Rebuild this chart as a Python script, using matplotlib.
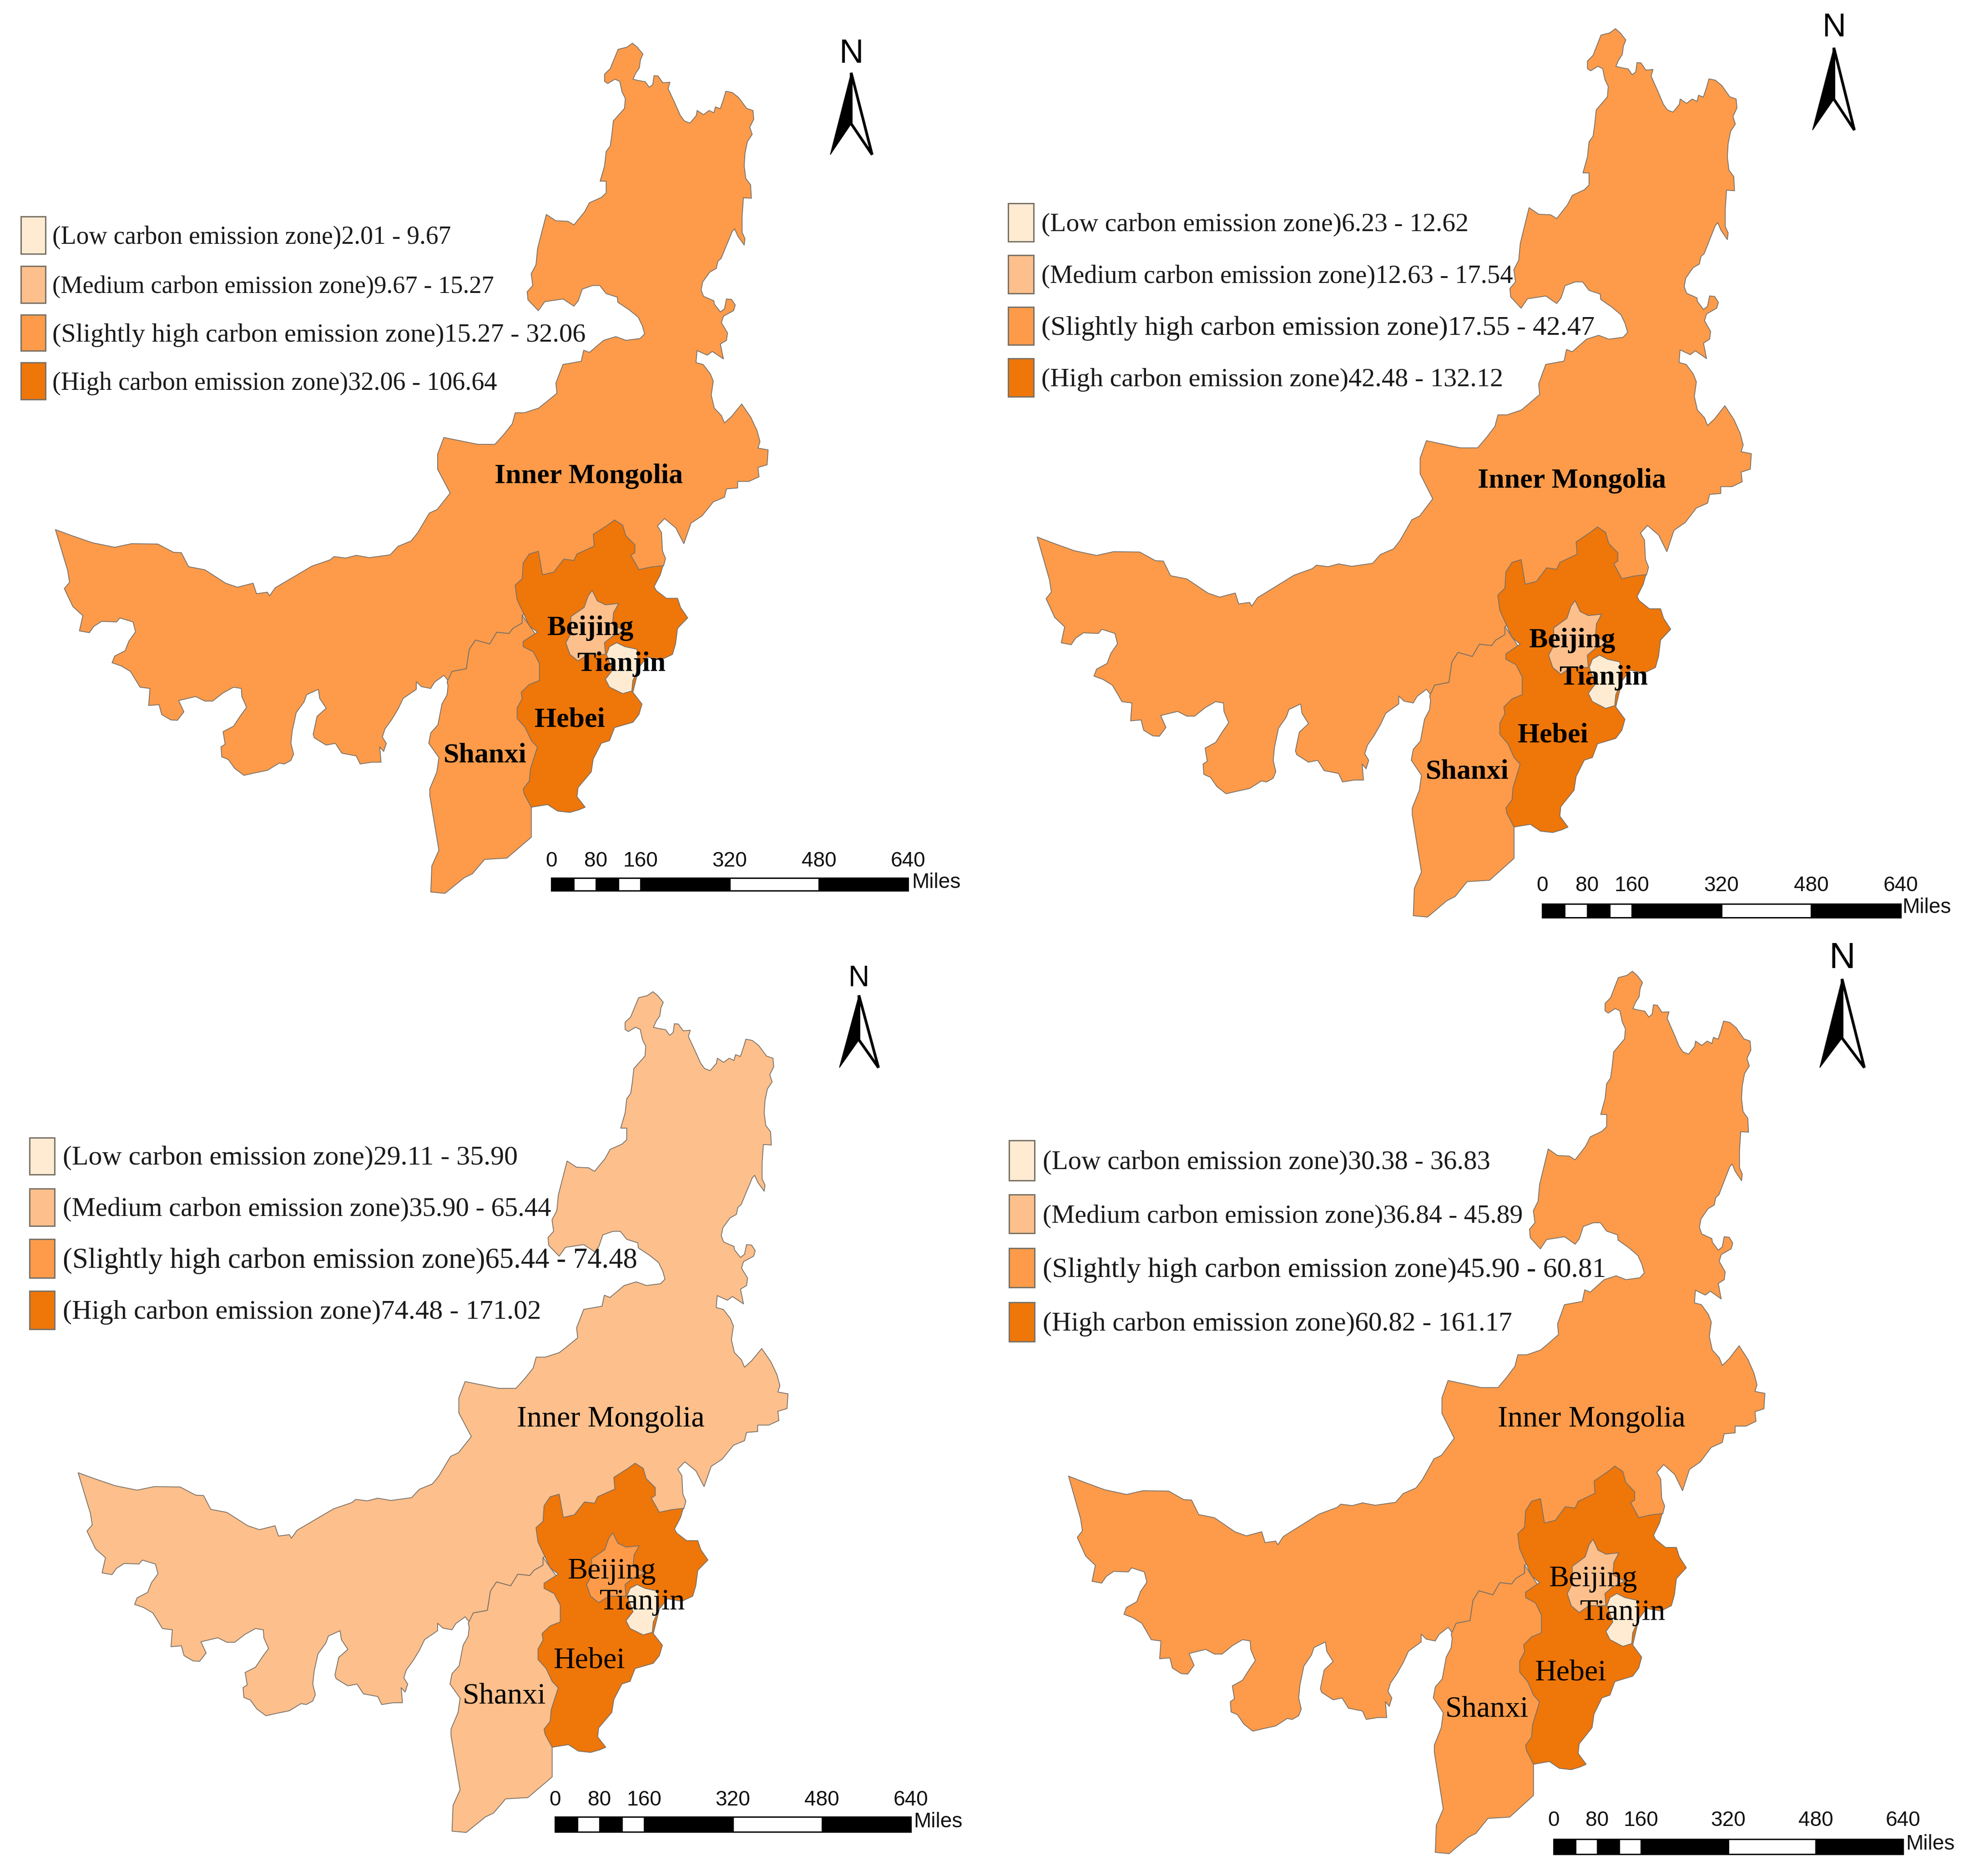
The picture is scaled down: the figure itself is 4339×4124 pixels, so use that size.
import matplotlib
matplotlib.use('Agg')
import matplotlib.pyplot as plt
from matplotlib.patches import Polygon, Rectangle
import numpy as np

W, H = 4339, 4124
DPI = 300
PX = 72 / DPI  # one image pixel in points

# colours of the four classes
LOW = '#FEEBD2'
MEDIUM = '#FDBF8B'
SLIGHT = '#FD9B4A'
HIGH = '#EF7608'
CLASS_COLORS = [LOW, MEDIUM, SLIGHT, HIGH]
EDGE = '#787068'

CLASS_NAMES = ['(Low carbon emission zone)', '(Medium carbon emission zone)',
               '(Slightly high carbon emission zone)', '(High carbon emission zone)']
# the original font is wider on some rows than the serif used here
ROW_SIZE = [1.05, 1.03, 1.10, 1.06]

RANGES_A = ['2.01 - 9.67', '9.67 - 15.27', '15.27 - 32.06', '32.06 - 106.64']
RANGES_B = ['6.23 - 12.62', '12.63 - 17.54', '17.55 - 42.47', '42.48 - 132.12']
RANGES_C = ['29.11 - 35.90', '35.90 - 65.44', '65.44 - 74.48', '74.48 - 171.02']
RANGES_D = ['30.38 - 36.83', '36.84 - 45.89', '45.90 - 60.81', '60.82 - 161.17']

REGIONS = ['Inner Mongolia', 'Shanxi', 'Hebei', 'Beijing', 'Tianjin']
FILLS_A = [SLIGHT, SLIGHT, HIGH, MEDIUM, LOW]
FILLS_B = [SLIGHT, SLIGHT, HIGH, MEDIUM, LOW]
FILLS_C = [MEDIUM, MEDIUM, HIGH, SLIGHT, LOW]
FILLS_D = [SLIGHT, SLIGHT, HIGH, MEDIUM, LOW]

BAR_MILES = [0, 40, 80, 120, 160, 320, 480, 640]
BAR_TICKS = [0, 80, 160, 320, 480, 640]

CROP_N = (1150, 80, 550, 620)
CROP_E = (1050, 640, 700, 640)
CROP_S = (900, 1100, 700, 900)
CROP_W = (100, 1120, 900, 620)
CROP_ALL = (0, 0, 2170, 2060)

MONGOLIA_NORTH = [(685, 38), (715, 60), (750, 98), (735, 130), (728, 175), (705, 205), (688, 238), (720, 245),
                  (765, 252), (790, 283), (812, 268), (820, 218), (845, 220), (875, 258), (920, 255), (908, 290),
                  (950, 370), (985, 440), (1010, 470), (1045, 482), (1085, 440), (1090, 412), (1130, 435),
                  (1165, 412), (1195, 425), (1205, 392), (1235, 402), (1255, 350), (1270, 305), (1310, 312),
                  (1350, 340), (1400, 400), (1440, 412), (1445, 460), (1420, 505), (1435, 545), (1405, 585),
                  (1390, 650), (1385, 720), (1395, 790), (1425, 825), (1430, 900), (1380, 897), (1372, 1000),
                  (1372, 1090), (1390, 1125), (1385, 1160), (1345, 1110), (1325, 1070), (1310, 1085), (1270, 1170),
                  (1240, 1235), (1220, 1250), (1210, 1290), (1170, 1310), (1125, 1365), (1115, 1410), (1130, 1445),
                  (1195, 1470)]
MONGOLIA_EAST = [(1165, 70), (1195, 112), (1215, 95), (1225, 42), (1250, 45), (1268, 75), (1260, 105), (1210, 135),
                 (1200, 170), (1230, 225), (1225, 265), (1195, 285), (1210, 365), (1155, 325), (1130, 345),
                 (1080, 320), (1075, 385), (1110, 395), (1145, 445), (1160, 485), (1150, 560), (1165, 630),
                 (1200, 670), (1215, 710), (1250, 675), (1300, 608), (1345, 680), (1375, 750), (1390, 810),
                 (1380, 845), (1430, 855), (1425, 935), (1380, 950), (1385, 1000), (1335, 1025), (1280, 1025),
                 (1280, 1060), (1225, 1065), (1215, 1110), (1160, 1135), (1105, 1210), (1050, 1250), (1015, 1360),
                 (975, 1275), (920, 1225), (885, 1265), (905, 1300), (910, 1400), (925, 1440), (915, 1480)]
MONGOLIA_HIDDEN = [(1000, 300), (700, 400), (555, 440)]  # runs under Hebei
MONGOLIA_BORDER = [(555, 470), (510, 490), (490, 510), (430, 505), (395, 550), (325, 535), (295, 570), (280, 645),
                   (210, 655), (190, 690), (170, 670)]
MONGOLIA_WEST = [(1490, 960), (1475, 995), (1440, 985), (1420, 958), (1420, 1000), (1370, 1050), (1350, 1110),
                 (1325, 1170), (1300, 1220), (1290, 1265), (1305, 1300), (1295, 1345), (1280, 1320), (1285, 1405),
                 (1250, 1405), (1205, 1415), (1190, 1370), (1135, 1355), (1110, 1300), (1075, 1310), (1030, 1270),
                 (1025, 1250), (1040, 1150), (1075, 1105), (1050, 1050), (1045, 1000), (1000, 1030), (990, 1070),
                 (960, 1130), (945, 1230), (940, 1300), (950, 1360), (940, 1395), (915, 1415), (895, 1410),
                 (850, 1450), (800, 1465), (760, 1478), (725, 1440), (700, 1390), (675, 1375), (672, 1320),
                 (688, 1305), (680, 1235), (720, 1205), (745, 1150), (770, 1100), (752, 1040), (750, 995),
                 (720, 988), (680, 1020), (640, 1065), (610, 1065), (575, 1040), (510, 1062), (530, 1125),
                 (505, 1172), (480, 1170), (445, 1140), (435, 1085), (395, 1090), (400, 995), (362, 988),
                 (340, 935), (325, 900), (290, 870), (255, 852), (265, 815), (305, 785), (320, 730), (345, 680),
                 (335, 625), (285, 603), (272, 625), (215, 622), (185, 650), (168, 685), (130, 675), (143, 590),
                 (105, 540), (72, 440), (92, 405), (85, 340), (38, 112), (100, 145), (180, 185), (265, 210),
                 (330, 190), (430, 192), (490, 238), (520, 240), (548, 318), (610, 335), (690, 410), (735, 432),
                 (795, 410), (808, 468), (850, 460), (858, 480), (880, 435), (1020, 315), (1090, 280), (1105, 262),
                 (1150, 270), (1190, 255), (1240, 268), (1320, 252), (1350, 205), (1400, 175), (1425, 130),
                 (1470, 20), (1500, 0)]
MONGOLIA_ELBOW = [(715, 825), (695, 785), (695, 760), (705, 732)]
MONGOLIA_BAY = [(0, 825), (85, 825), (130, 770), (170, 715), (185, 655), (230, 655), (300, 630), (340, 595),
                (390, 550), (385, 495), (420, 395), (510, 378), (522, 318), (550, 330), (620, 265), (680, 245),
                (730, 265), (800, 255), (822, 230), (810, 185), (790, 140), (745, 100), (690, 60)]
MONGOLIA_NW = [(590, 1450), (520, 1430), (480, 1385), (435, 1385), (370, 1405), (345, 1470), (318, 1500),
               (250, 1460), (135, 1475), (95, 1525), (30, 1465), (25, 1420), (60, 1385), (50, 1320), (80, 1270),
               (90, 1180), (145, 990), (205, 1025), (280, 1028), (318, 1048), (385, 975), (415, 925), (490, 895),
               (520, 870), (520, 805), (482, 805), (510, 720), (520, 640), (545, 610), (555, 550), (565, 470),
               (635, 400), (640, 345), (620, 310), (605, 250), (575, 238), (530, 262), (510, 250), (510, 210),
               (545, 180), (595, 72), (650, 60)]

SHANXI = [(555, 440), (555, 470), (510, 490), (490, 510), (430, 505), (395, 550), (325, 535), (295, 570), (280, 645),
          (210, 655), (185, 695), (190, 710), (185, 745), (160, 780), (140, 860), (105, 890), (95, 930), (145, 985),
          (135, 1040), (100, 1105), (100, 1130), (130, 1270), (145, 1340), (110, 1400), (105, 1500), (175, 1505),
          (270, 1445), (310, 1430), (370, 1375), (480, 1370), (600, 1290), (600, 1175), (700, 1100), (700, 600)]
HEBEI = [(905, 130), (975, 95), (1010, 75), (1050, 95), (1065, 135), (1110, 170), (1110, 200), (1090, 210),
         (1130, 265), (1190, 255), (1248, 250), (1235, 285), (1205, 330), (1215, 345), (1265, 375), (1320, 375),
         (1335, 410), (1370, 450), (1320, 490), (1310, 550), (1295, 590), (1240, 610), (1170, 600), (1130, 640),
         (1100, 735), (1145, 780), (1130, 820), (1100, 850), (1010, 870), (985, 920), (945, 930), (905, 990),
         (895, 1040), (830, 1100), (825, 1135), (865, 1175), (835, 1185), (790, 1195), (730, 1190), (680, 1165),
         (600, 1175), (565, 1125), (560, 1105), (590, 1075), (595, 1030), (630, 945), (600, 920), (570, 870),
         (530, 835), (530, 795), (555, 760), (550, 735), (590, 705), (640, 690), (640, 625), (610, 580), (560, 560),
         (560, 540), (630, 505), (590, 480), (560, 430), (530, 380), (520, 325), (555, 300), (560, 240), (590, 205),
         (635, 195), (655, 285), (710, 275), (760, 225), (810, 230), (825, 205), (910, 175)]
BEIJING = [(900, 345), (925, 385), (965, 400), (1030, 395), (1005, 430), (1000, 475), (1060, 500), (1000, 520),
           (960, 545), (965, 590), (880, 590), (830, 615), (790, 590), (770, 545), (795, 510), (795, 445), (860, 410),
           (880, 365)]
TIANJIN = [(1020, 545), (1060, 560), (1120, 570), (1130, 640), (1100, 690), (1095, 730), (1050, 740), (985, 715),
           (965, 685), (1000, 650), (970, 590), (985, 560)]

# where each map sits: left, top of the outline, x scale, y scale against the traced map
MAP_A = (122, 93, 1.0, 1.0)
MAP_B = (2280, 61, 1.002, 1.045)
MAP_C = (172, 2178, 0.996, 0.989)
MAP_D = (2349, 2133, 0.977, 1.038)
TRACE_LEFT, TRACE_TOP = 122, 93


def from_crop(crop, pts):
    x0, y0, w, h = crop
    pts = np.array(pts, dtype=float)
    return np.column_stack([x0 + pts[:, 0] * w / 1568, y0 + pts[:, 1] * h / 1568])


mongolia = np.vstack([
    from_crop(CROP_N, MONGOLIA_NORTH),
    from_crop(CROP_E, MONGOLIA_EAST),
    from_crop(CROP_S, MONGOLIA_HIDDEN),
    from_crop(CROP_S, MONGOLIA_BORDER),
    from_crop(CROP_W, MONGOLIA_WEST),
    from_crop(CROP_ALL, MONGOLIA_ELBOW),
    from_crop(CROP_E, MONGOLIA_BAY),
    from_crop(CROP_N, MONGOLIA_NW),
])
OUTLINES = [mongolia, from_crop(CROP_S, SHANXI), from_crop(CROP_S, HEBEI),
            from_crop(CROP_S, BEIJING), from_crop(CROP_S, TIANJIN)]

PANELS = [
    dict(place=MAP_A, fills=FILLS_A, ranges=RANGES_A, bold=True, label_size=62,
         labels=[(1294, 1047), (1066, 1660), (1252, 1582), (1298, 1381), (1366, 1460)],
         swatch_x=(46, 100), swatch_y=[(476, 558), (585, 666), (692, 771), (797, 878)], text_x=115, text_size=53,
         bar=(1212, 1996, 1930, 1958), tick_y=1893, miles=(2004, 1940),
         arrow=(1871, 160, 1825, 1917, 272, 340), north=(1872, 119), north_size=74),
    dict(place=MAP_B, fills=FILLS_B, ranges=RANGES_B, bold=True, label_size=62,
         labels=[(3455, 1057), (3225, 1697), (3413, 1616), (3456, 1408), (3525, 1490)],
         swatch_x=(2216, 2272), swatch_y=[(447, 531), (561, 645), (675, 758), (788, 872)], text_x=2289, text_size=55,
         bar=(3390, 4178, 1987, 2017), tick_y=1947, miles=(4181, 1995),
         arrow=(4031, 105, 3984, 4076, 218, 286), north=(4031, 61), north_size=72),
    dict(place=MAP_C, fills=FILLS_C, ranges=RANGES_C, bold=False, label_size=66,
         labels=[(1342, 3120), (1108, 3730), (1295, 3651), (1344, 3454), (1412, 3522)],
         swatch_x=(65, 120), swatch_y=[(2501, 2582), (2613, 2695), (2724, 2809), (2838, 2922)], text_x=138, text_size=57,
         bar=(1220, 2002, 3994, 4027), tick_y=3957, miles=(2008, 4005),
         arrow=(1888, 2188, 1845, 1931, 2286, 2347), north=(1888, 2151), north_size=64),
    dict(place=MAP_D, fills=FILLS_D, ranges=RANGES_D, bold=False, label_size=66,
         labels=[(3498, 3120), (3268, 3759), (3452, 3678), (3501, 3471), (3567, 3545)],
         swatch_x=(2218, 2274), swatch_y=[(2507, 2595), (2626, 2711), (2744, 2830), (2863, 2949)], text_x=2292, text_size=56,
         bar=(3415, 4183, 4043, 4076), tick_y=4002, miles=(4189, 4054),
         arrow=(4049, 2152, 4000, 4098, 2282, 2347), north=(4049, 2108), north_size=80),
]

fig = plt.figure(figsize=(W / DPI, H / DPI), dpi=DPI)
ax = fig.add_axes([0, 0, 1, 1])
ax.set_xlim(0, W)
ax.set_ylim(H, 0)
ax.axis('off')

for p in PANELS:
    left, top, sx, sy = p['place']

    # regions, Hebei goes over the hidden parts of the neighbours
    for outline, fill in zip(OUTLINES, p['fills']):
        xy = np.column_stack([left + (outline[:, 0] - TRACE_LEFT) * sx, top + (outline[:, 1] - TRACE_TOP) * sy])
        ax.add_patch(Polygon(xy, closed=True, facecolor=fill, edgecolor=EDGE, linewidth=1.8 * PX, joinstyle='round'))

    weight = 'bold' if p['bold'] else 'normal'
    for name, (x, y) in zip(REGIONS, p['labels']):
        ax.text(x, y, name, ha='center', va='center', family='Liberation Serif', weight=weight,
                fontsize=p['label_size'] * PX, color='black')

    # legend
    x0, x1 = p['swatch_x']
    for (y0, y1), color, name, rng, row in zip(p['swatch_y'], CLASS_COLORS, CLASS_NAMES, p['ranges'], ROW_SIZE):
        ax.add_patch(Rectangle((x0, y0), x1 - x0, y1 - y0, facecolor=color, edgecolor='#7A7266', linewidth=3 * PX))
        ax.text(p['text_x'], (y0 + y1) / 2 + 5, name + rng, ha='left', va='center', family='Liberation Serif',
                fontsize=p['text_size'] * row * PX, color='#1A1A1A')

    # scale bar
    bx0, bx1, by0, by1 = p['bar']
    per_mile = (bx1 - bx0) / BAR_MILES[-1]
    for i in range(len(BAR_MILES) - 1):
        a = bx0 + BAR_MILES[i] * per_mile
        b = bx0 + BAR_MILES[i + 1] * per_mile
        ax.add_patch(Rectangle((a, by0), b - a, by1 - by0, facecolor='white' if i % 2 else 'black',
                               edgecolor='black', linewidth=3 * PX))
    for t in BAR_TICKS:
        ax.text(bx0 + t * per_mile, p['tick_y'], str(t), ha='center', va='center', family='Liberation Sans',
                fontsize=46 * PX, color='#111111')
    ax.text(p['miles'][0], p['miles'][1], 'Miles', ha='left', va='center', family='Liberation Sans',
            fontsize=46 * PX, color='#111111')

    # north arrow
    tx, ty, lx, rx, ny, by = p['arrow']
    ax.add_patch(Polygon([(tx, ty), (lx, by), (tx, ny)], closed=True, facecolor='black', edgecolor='black',
                         linewidth=1.5 * PX))
    ax.add_patch(Polygon([(tx, ty), (rx, by), (tx, ny)], closed=True, facecolor='white', edgecolor='black',
                         linewidth=6 * PX, joinstyle='bevel'))
    ax.text(p['north'][0], p['north'][1], 'N', ha='center', va='center', family='Liberation Sans',
            fontsize=p['north_size'] * PX, color='black')

fig.savefig('out.png', dpi=DPI, facecolor='white')
